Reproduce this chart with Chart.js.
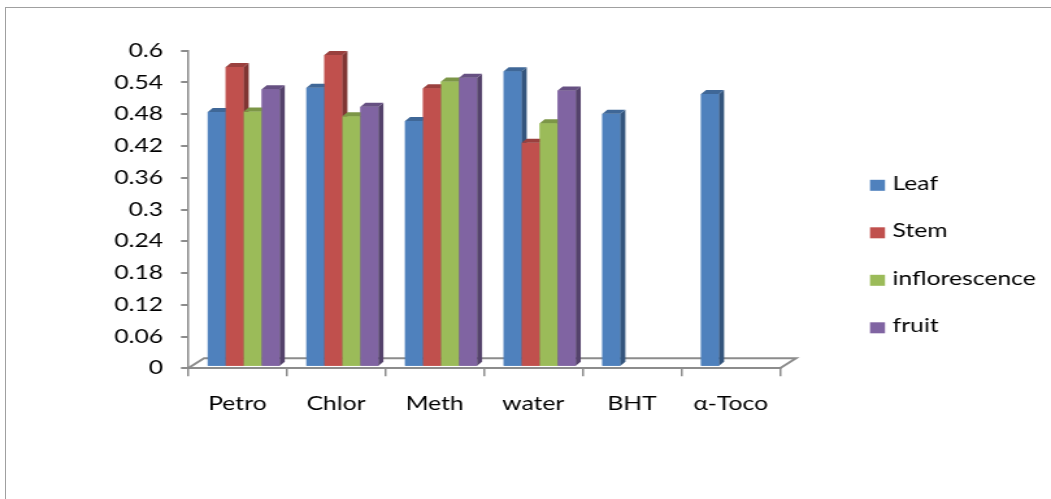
<!DOCTYPE html>
<html>
<head>
<meta charset="utf-8">
<title>Antioxidant activity by extract</title>
<script src="https://cdn.jsdelivr.net/npm/chart.js@4/dist/chart.umd.min.js"></script>
<style>
  html, body { margin: 0; padding: 0; background: #ffffff; overflow: hidden; }
  body { width: 1051px; height: 499px; position: relative; }
  #frame { position: absolute; left: 5px; top: 7px; width: 1100px; height: 560px;
           border: 1px solid #a0a0a0; box-sizing: border-box; }
  #wrap { position: absolute; left: 0; top: 0; width: 809px; height: 499px;
          transform: scaleX(1.29913); transform-origin: 0 0; }
  canvas { display: block; }
</style>
</head>
<body>
<div id="frame"></div>
<div id="wrap"><canvas id="chart" width="809" height="499"></canvas></div>
<script>
// Extract categories and the activity measured for each plant part
const categories = ['Petro', 'Chlor', 'Meth', 'water', 'BHT', 'α-Toco'];
const leaf          = [0.481, 0.527, 0.464, 0.558, 0.478, 0.515];
const stem          = [0.566, 0.589, 0.526, 0.423, null, null];
const inflorescence = [0.482, 0.473, 0.539, 0.460, null, null];
const fruit         = [0.524, 0.491, 0.546, 0.522, null, null];

const seriesNames  = ['Leaf', 'Stem', 'inflorescence', 'fruit'];
const seriesColors = ['#4F81BD', '#C0504D', '#9BBB59', '#8064A2'];

const yTickValues = [0, 0.06, 0.12, 0.18, 0.24, 0.3, 0.36, 0.42, 0.48, 0.54, 0.6];
const yTickLabels = ['0', '0.06', '0.12', '0.18', '0.24', '0.3', '0.36', '0.42', '0.48', '0.54', '0.6'];

// The canvas is laid out narrow and widened by the wrapper's scaleX.
const SX = 1051 / 809;
const ux = x => x / SX;

const AXIS = '#8c8c8c';
const FONT = { family: 'Lato, "Open Sans", sans-serif', size: 19 };

function shade(hex, f) {
  const n = parseInt(hex.slice(1), 16);
  const r = Math.round(((n >> 16) & 255) * f);
  const g = Math.round(((n >> 8) & 255) * f);
  const b = Math.round((n & 255) * f);
  return `rgb(${r},${g},${b})`;
}

// Depth of the 3-D look (screen offsets of the back faces)
const DEPTH_X = ux(5);
const DEPTH_Y = 4;
const BAR_SHIFT_X = ux(6.4);
const BAR_SHIFT_Y = -1.6;

const floorPlugin = {
  id: 'floor3d',
  beforeDatasetsDraw(chart) {
    const { ctx, chartArea } = chart;
    const l = chartArea.left, r = chartArea.right, b = chartArea.bottom;
    const fx = ux(16), fy = 10;
    ctx.save();
    ctx.strokeStyle = AXIS;
    ctx.lineWidth = 2;
    ctx.beginPath();
    ctx.moveTo(l, b);
    ctx.lineTo(l + fx, b - fy);
    ctx.lineTo(r + fx, b - fy);
    ctx.lineTo(r, b);
    ctx.stroke();
    ctx.restore();
    // bars sit a little inside the floor
    ctx.save();
    ctx.translate(BAR_SHIFT_X, BAR_SHIFT_Y);
  },
  afterDatasetsDraw(chart) {
    const { ctx } = chart;
    chart.data.datasets.forEach((ds, di) => {
      const meta = chart.getDatasetMeta(di);
      const base = ds.backgroundColor;
      const side = shade(base, 0.66);
      const top = shade(base, 0.8);
      meta.data.forEach((el, i) => {
        if (ds.data[i] === null || ds.data[i] === undefined) return;
        const p = el.getProps(['x', 'y', 'base', 'width'], true);
        const left = p.x - p.width / 2, right = p.x + p.width / 2;
        // front face again, so each bar covers its left neighbour's side
        el.draw(ctx);
        ctx.fillStyle = side;
        ctx.beginPath();
        ctx.moveTo(right, p.y);
        ctx.lineTo(right + DEPTH_X, p.y - DEPTH_Y);
        ctx.lineTo(right + DEPTH_X, p.base - DEPTH_Y);
        ctx.lineTo(right, p.base);
        ctx.closePath();
        ctx.fill();
        ctx.fillStyle = top;
        ctx.beginPath();
        ctx.moveTo(left, p.y);
        ctx.lineTo(left + DEPTH_X, p.y - DEPTH_Y);
        ctx.lineTo(right + DEPTH_X, p.y - DEPTH_Y);
        ctx.lineTo(right, p.y);
        ctx.closePath();
        ctx.fill();
      });
    });
    ctx.restore();
  }
};

const legendPlugin = {
  id: 'sideLegend',
  afterDraw(chart) {
    const { ctx } = chart;
    ctx.save();
    ctx.font = `${FONT.size}px ${FONT.family}`;
    ctx.textBaseline = 'middle';
    ctx.textAlign = 'left';
    chart.data.datasets.forEach((ds, i) => {
      const yc = 185.3 + i * 47.5;
      ctx.fillStyle = ds.backgroundColor;
      ctx.fillRect(ux(870), yc - 5.5, ux(885) - ux(870), 11);
      ctx.fillStyle = '#000000';
      ctx.fillText(ds.label, ux(892.5), yc - 1.5);
    });
    ctx.restore();
  }
};

const seriesData = [leaf, stem, inflorescence, fruit];

new Chart(document.getElementById('chart'), {
  type: 'bar',
  data: {
    labels: categories,
    datasets: seriesNames.map((name, i) => ({
      label: name,
      data: seriesData[i],
      backgroundColor: seriesColors[i],
      borderWidth: 0,
      categoryPercentage: 0.73,
      barPercentage: 1.0
    }))
  },
  options: {
    responsive: false,
    animation: false,
    devicePixelRatio: 1,
    layout: { padding: { top: 50.7, right: 809 - ux(780), left: 0, bottom: 0 } },
    plugins: { legend: { display: false }, tooltip: { enabled: false } },
    scales: {
      x: {
        grid: { display: true, drawOnChartArea: false, drawTicks: true, tickLength: 8,
                color: AXIS, lineWidth: 1.5, offset: true },
        border: { display: true, color: AXIS, width: 2 },
        ticks: { font: FONT, color: '#000000', padding: 16, maxRotation: 0 },
        afterFit(scale) { scale.height = 499 - 368.3; }
      },
      y: {
        min: 0,
        max: 0.6,
        afterBuildTicks(scale) { scale.ticks = yTickValues.map(v => ({ value: v })); },
        grid: { display: true, drawOnChartArea: false, drawTicks: true, tickLength: ux(7),
                color: AXIS, lineWidth: 2 },
        border: { display: true, color: AXIS, width: 1.5 },
        ticks: { font: FONT, color: '#000000', padding: 13.7,
                 callback: (v, i) => yTickLabels[i] },
        afterFit(scale) { scale.width = ux(188); }
      }
    }
  },
  plugins: [floorPlugin, legendPlugin]
});
</script>
</body>
</html>
